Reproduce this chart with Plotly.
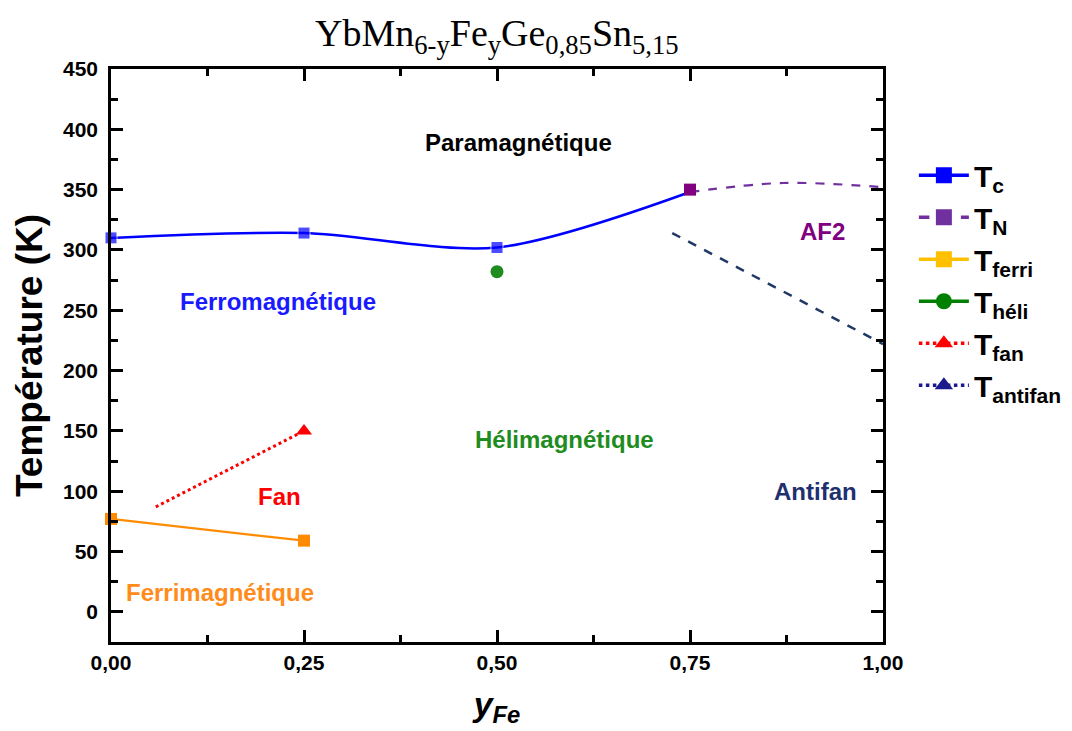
import plotly.graph_objects as go

# ---- data ----
tc_x = [0.0, 0.25, 0.5, 0.75]
tc_y = [310, 314, 302, 348]
tn_x = [0.75, 0.87, 1.0]
tn_y = [348, 355.5, 352]
tn_mark_x = [0.75]
tn_mark_y = [350]
ferri_x = [0.0, 0.25]
ferri_y = [77, 59]
heli_x = [0.5]
heli_y = [282]
fan_x = [0.058, 0.25]
fan_y = [87, 150]
antifan_x = [0.727, 1.0]
antifan_y = [314, 222]

x_ticks = [0.0, 0.25, 0.5, 0.75, 1.0]
x_ticktext = ["0,00", "0,25", "0,50", "0,75", "1,00"]
y_ticks = [0, 50, 100, 150, 200, 250, 300, 350, 400, 450]

region_labels = ["Paramagnétique", "Ferromagnétique", "AF2", "Hélimagnétique", "Fan", "Antifan", "Ferrimagnétique"]
region_x = [0.528, 0.216, 0.921, 0.588, 0.218, 0.913, 0.141]
region_y = [389, 257, 315, 143, 96, 100, 16]
region_colors = ["black", "#1a1aff", "#800080", "#1e8c1e", "#ff0000", "#1f3070", "#ff8c1a"]

FONT = "Arial, Liberation Sans, sans-serif"

fig = go.Figure()

# plotted curves (no legend)
fig.add_trace(go.Scatter(x=tc_x, y=tc_y, mode="lines+markers", cliponaxis=False,
                         line=dict(color="#0000ff", width=2.5, shape="spline", smoothing=0.85),
                         marker=dict(symbol="square", size=[12, 12, 12, 0], color="#0000ff"), showlegend=False))
fig.add_trace(go.Scatter(x=tn_x, y=tn_y, mode="lines", line=dict(color="#7030a0", width=2.2, dash="dash", shape="spline"),
                         showlegend=False))
fig.add_trace(go.Scatter(x=tn_mark_x, y=tn_mark_y, mode="markers", cliponaxis=False,
                         marker=dict(symbol="square", size=12, color="#800080"), showlegend=False))
fig.add_trace(go.Scatter(x=ferri_x, y=ferri_y, mode="lines+markers", cliponaxis=False,
                         line=dict(color="#ff8c00", width=2.2),
                         marker=dict(symbol="square", size=12, color="#ff8c00"), showlegend=False))
fig.add_trace(go.Scatter(x=heli_x, y=heli_y, mode="markers", marker=dict(symbol="circle", size=13, color="#1e8c1e"),
                         showlegend=False))
fig.add_trace(go.Scatter(x=fan_x, y=fan_y, mode="lines", line=dict(color="#ff0000", width=3, dash="dot"), showlegend=False))
fig.add_trace(go.Scatter(x=fan_x[1:], y=fan_y[1:], mode="markers", marker=dict(symbol="triangle-up", size=14, color="#ff0000"),
                         showlegend=False))
fig.add_trace(go.Scatter(x=antifan_x, y=antifan_y, mode="lines", line=dict(color="#1f3864", width=2.5, dash="dash"),
                         showlegend=False))

# legend entries
legend_specs = [
    ("<b>T<sub>c</sub></b>", "#0000ff", "solid", "square", 17),
    ("<b>T<sub>N</sub></b>", "#7030a0", "dash", "square", 17),
    ("<b>T<sub>ferri</sub></b>", "#ffc000", "solid", "square", 17),
    ("<b>T<sub>héli</sub></b>", "#008000", "solid", "circle", 18),
    ("<b>T<sub>fan</sub></b>", "#ff0000", "dot", "triangle-up", 20),
    ("<b>T<sub>antifan</sub></b>", "#1a1a8c", "dot", "triangle-up", 20),
]
for name, col, dash, sym, sz in legend_specs:
    fig.add_trace(go.Scatter(x=[None], y=[None], mode="lines+markers", name=name,
                             line=dict(color=col, width=3.5, dash=dash),
                             marker=dict(symbol=sym, size=sz, color=col)))

for txt, xx, yy, c in zip(region_labels, region_x, region_y, region_colors):
    fig.add_annotation(x=xx, y=yy, text=f"<b>{txt}</b>", showarrow=False,
                       font=dict(family=FONT, size=24, color=c))

tickfont = dict(family=FONT, size=21, color="black", weight="bold")

fig.update_layout(
    width=1072, height=731,
    paper_bgcolor="white", plot_bgcolor="white",
    margin=dict(l=103, r=197, t=61, b=97),
    title=dict(text="YbMn<sub>6-y</sub>Fe<sub>y</sub>Ge<sub>0,85</sub>Sn<sub>5,15</sub>",
               x=0.456, xanchor="center", y=0.966, yanchor="middle",
               font=dict(family="Liberation Serif, Times New Roman, serif", size=38, color="black")),
    font=dict(family=FONT, color="black"),
    legend=dict(x=1.04, y=0.86, xanchor="left", yanchor="top", itemwidth=50,
                font=dict(family=FONT, size=30, color="black"),
                tracegroupgap=0, bgcolor="rgba(0,0,0,0)"),
    xaxis=dict(range=[0, 1.0], tickvals=x_ticks, ticktext=x_ticktext,
               ticks="inside", ticklen=12, tickwidth=2.5, tickcolor="black",
               showline=True, linewidth=2.5, linecolor="black", mirror="ticks",
               showgrid=False, zeroline=False, tickfont=tickfont, ticklabelstandoff=0,
               minor=dict(ticks="inside", ticklen=7, tickwidth=2.5, tickcolor="black", dtick=0.125, tick0=0),
               title=dict(text="<b><i>y<sub>Fe</sub></i></b>", font=dict(family=FONT, size=34), standoff=20)),
    yaxis=dict(range=[-25, 450], tickvals=y_ticks,
               ticks="inside", ticklen=12, tickwidth=2.5, tickcolor="black",
               showline=True, linewidth=2.5, linecolor="black", mirror="ticks",
               showgrid=False, zeroline=False, tickfont=tickfont, ticklabelstandoff=6,
               minor=dict(ticks="inside", ticklen=7, tickwidth=2.5, tickcolor="black", dtick=25, tick0=0),
               title=dict(text="<b>Température (K)</b>", font=dict(family=FONT, size=37), standoff=10)),
)

fig.write_html("out.html")
